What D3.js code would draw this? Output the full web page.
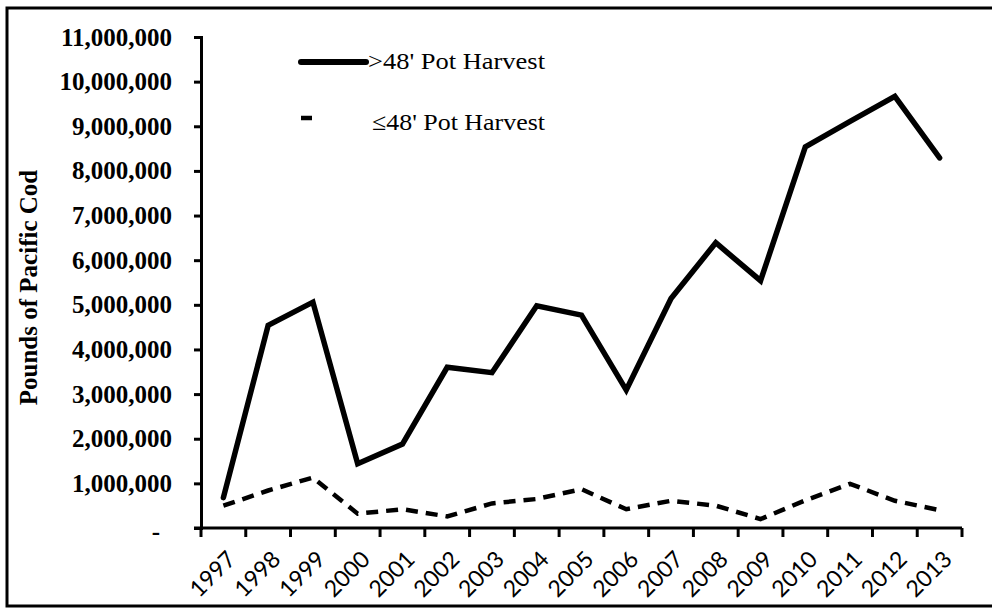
<!DOCTYPE html>
<html>
<head>
<meta charset="utf-8">
<script src="https://cdn.jsdelivr.net/npm/d3@7"></script>
<style>
  html, body { margin: 0; padding: 0; background: #fff; }
  svg { display: block; }
</style>
</head>
<body>
<svg id="chart" width="992" height="611"></svg>
<script>
const years = ["1997","1998","1999","2000","2001","2002","2003","2004","2005","2006","2007","2008","2009","2010","2011","2012","2013"];
const largeVesselHarvest = [680000, 4540000, 5060000, 1440000, 1880000, 3600000, 3480000, 4980000, 4770000, 3090000, 5140000, 6390000, 5540000, 8540000, 9110000, 9670000, 8290000];
const smallVesselHarvest = [500000, 840000, 1130000, 320000, 420000, 260000, 550000, 650000, 870000, 420000, 610000, 500000, 200000, 620000, 990000, 610000, 400000];
const yTicks = [0, 1000000, 2000000, 3000000, 4000000, 5000000, 6000000, 7000000, 8000000, 9000000, 10000000, 11000000];
const seriesNames = [">48' Pot Harvest", "\u226448' Pot Harvest"];
const yTitle = "Pounds of Pacific Cod";

const svg = d3.select("#chart");
const plotLeft = 201, plotRight = 962, plotTop = 37, plotBottom = 528;
const serif = "'Liberation Serif', 'Times New Roman', serif";

// outer frame
svg.append("rect").attr("x", 7).attr("y", 8).attr("width", 1000).attr("height", 598)
  .attr("fill", "none").attr("stroke", "#000").attr("stroke-width", 3);

const x = d3.scaleBand().domain(years).range([plotLeft, plotRight]);
const y = d3.scaleLinear().domain([0, 11000000]).range([plotBottom, plotTop]);

// y axis
const yAxis = d3.axisLeft(y).tickValues(yTicks).tickSize(7).tickPadding(22)
  .tickFormat(d => d === 0 ? "-" : d3.format(",")(d));
const gy = svg.append("g").attr("transform", `translate(${plotLeft},0)`).call(yAxis);
gy.select(".domain").attr("stroke-width", 3);
gy.selectAll(".tick line").attr("stroke-width", 3);
gy.selectAll(".tick text")
  .attr("font-family", serif)
  .attr("font-weight", "bold").attr("font-size", 25).attr("fill", "#000");
gy.selectAll(".tick").filter(d => d === 0).select("text").attr("x", -41).attr("dy", "0.45em");

// x axis
const xAxis = d3.axisBottom(x).tickSize(0);
const gx = svg.append("g").attr("transform", `translate(0,${plotBottom})`).call(xAxis);
gx.select(".domain").attr("stroke-width", 3).attr("d", `M${plotLeft - 7},0H${plotRight}`);
gx.selectAll(".tick text")
  .attr("font-family", "Lato, 'Open Sans', sans-serif")
  .attr("font-size", 23).attr("fill", "#000")
  .attr("x", 0).attr("y", 0).attr("dy", "0.35em")
  .style("text-anchor", "end")
  .attr("transform", "translate(8,27) rotate(-45)");
// tick marks at category boundaries
const bounds = years.map(d => x(d)).concat([plotRight]);
svg.append("g").selectAll("line").data(bounds).join("line")
  .attr("x1", d => d).attr("x2", d => d)
  .attr("y1", plotBottom).attr("y2", plotBottom + 9)
  .attr("stroke", "#000").attr("stroke-width", 3);

// y title
svg.append("text")
  .attr("transform", `translate(37,${(168 + 407) / 2}) rotate(-90)`)
  .attr("text-anchor", "middle")
  .attr("font-family", serif)
  .attr("font-weight", "bold").attr("font-size", 25).attr("fill", "#000")
  .text(yTitle);

const cx = d => x(d) + x.bandwidth() / 2;
const line = d3.line().x(d => cx(d[0])).y(d => y(d[1]));

svg.append("path")
  .datum(years.map((d, i) => [d, largeVesselHarvest[i]]))
  .attr("d", line).attr("fill", "none").attr("stroke", "#000")
  .attr("stroke-width", 5.5).attr("stroke-linejoin", "miter").attr("stroke-linecap", "round");

svg.append("path")
  .datum(years.map((d, i) => [d, smallVesselHarvest[i]]))
  .attr("d", line).attr("fill", "none").attr("stroke", "#000")
  .attr("stroke-width", 4.5).attr("stroke-dasharray", "12,8");

// legend
const lg = svg.append("g");
lg.append("line").attr("x1", 301).attr("x2", 366).attr("y1", 62).attr("y2", 62)
  .attr("stroke", "#000").attr("stroke-width", 6).attr("stroke-linecap", "round");
lg.append("text").attr("x", 368).attr("y", 69)
  .attr("font-family", serif).attr("font-size", 24).attr("fill", "#000")
  .attr("textLength", 177).attr("lengthAdjust", "spacingAndGlyphs")
  .text(seriesNames[0]);
lg.append("line").attr("x1", 301).attr("x2", 312).attr("y1", 118).attr("y2", 118)
  .attr("stroke", "#000").attr("stroke-width", 4.5);
lg.append("text").attr("x", 372).attr("y", 130)
  .attr("font-family", serif).attr("font-size", 24).attr("fill", "#000")
  .attr("textLength", 173).attr("lengthAdjust", "spacingAndGlyphs")
  .text(seriesNames[1]);
</script>
</body>
</html>
